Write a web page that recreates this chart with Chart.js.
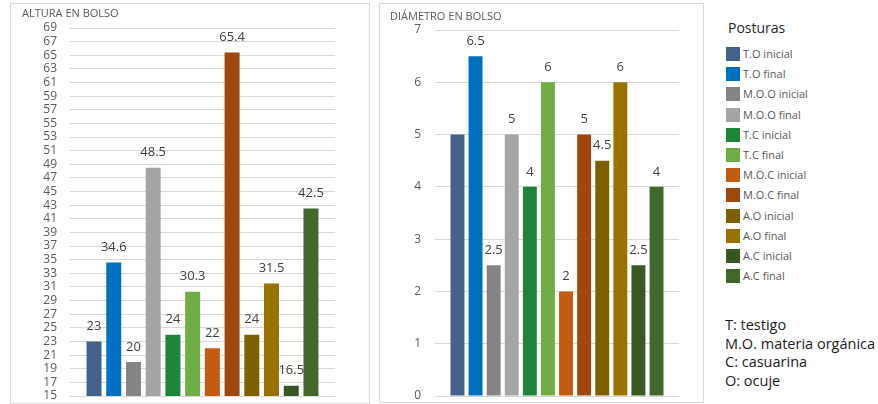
<!DOCTYPE html>
<html>
<head>
<meta charset="utf-8">
<script src="https://cdn.jsdelivr.net/npm/chart.js@4.4.1/dist/chart.umd.min.js"></script>
<style>
  body { margin: 0; background: #fff; font-family: "Open Sans", sans-serif; }
  #lienzo { position: relative; width: 878px; height: 404px; overflow: hidden; }
  .panel { position: absolute; border: 1px solid #d9d9d9; box-sizing: border-box; }
  canvas { position: absolute; }
  .item { position: absolute; left: 726px; height: 14px; font-size: 11px; line-height: 14px; color: #595959; white-space: nowrap; }
  .item span { display: inline-block; width: 14px; height: 14px; vertical-align: top; margin-right: 3px; }
  #titulo { position: absolute; left: 728px; top: 18px; font-size: 14px; color: #262626; }
  .nota { position: absolute; left: 725px; font-size: 14.5px; line-height: 18px; color: #1a1a1a; white-space: nowrap; }
</style>
</head>
<body>
<div id="lienzo">
  <div class="panel" style="left:10px; top:3px; width:360px; height:401px;"></div>
  <div class="panel" style="left:379px; top:3px; width:325px; height:400px;"></div>
  <canvas id="altura" width="357" height="414" style="left:11px; top:4px;"></canvas>
  <canvas id="diametro" width="322" height="415" style="left:380px; top:4px;"></canvas>
  <div id="titulo">Posturas</div>
  <div id="leyenda"></div>
</div>
<script>
// datos
const posturas = ["T.O inicial", "T.O final", "M.O.O inicial", "M.O.O final", "T.C inicial", "T.C final",
  "M.O.C inicial", "M.O.C final", "A.O inicial", "A.O final", "A.C inicial", "A.C final"];
const alturaBolso = [23, 34.6, 20, 48.5, 24, 30.3, 22, 65.4, 24, 31.5, 16.5, 42.5];
const diametroBolso = [5, 6.5, 2.5, 5, 4, 6, 2, 5, 4.5, 6, 2.5, 4];
const grupo = [""];
const notas = ["T: testigo", "M.O. materia orgánica", "C: casuarina", "O: ocuje"];

const colores = ["#43628b", "#0070c0", "#848484", "#a5a5a5", "#1d843a", "#70ad47",
  "#c55a11", "#9e480e", "#7f6000", "#997300", "#385723", "#43682b"];

// etiquetas de valor encima de cada barra
const etiquetas = {
  id: "etiquetas",
  afterDatasetsDraw(chart, args, opts) {
    const ctx = chart.ctx;
    ctx.save();
    ctx.font = '13px "Open Sans"';
    ctx.fillStyle = "#404040";
    ctx.textAlign = "center";
    ctx.textBaseline = "middle";
    chart.data.datasets.forEach((ds, i) => {
      if ((opts.omitir || []).includes(i)) return;
      const barra = chart.getDatasetMeta(i).data[0];
      ctx.fillText(String(ds.data[0]), barra.x, barra.y - 15);
    });
    ctx.restore();
  },
};

function series(valores, cat, bar) {
  return posturas.map((p, i) => ({
    label: p,
    data: [valores[i]],
    backgroundColor: colores[i],
    categoryPercentage: cat,
    barPercentage: bar,
  }));
}

function opciones(titulo, pad, ejeY, padTitulo, omitir) {
  return {
    responsive: false,
    animation: false,
    layout: { padding: pad },
    plugins: {
      legend: { display: false },
      tooltip: { enabled: false },
      title: {
        display: true,
        text: titulo,
        align: "start",
        color: "#595959",
        font: { family: "Open Sans", size: 11, weight: "normal" },
        padding: padTitulo,
      },
      etiquetas: { omitir: omitir },
    },
    scales: {
      x: { display: false },
      y: Object.assign({
        grid: { color: "#d9d9d9", drawTicks: false },
        border: { display: false },
      }, ejeY),
    },
  };
}

let altura = document.getElementById("altura").getContext("2d");
new Chart(altura, {
  type: "bar",
  data: { labels: grupo, datasets: series(alturaBolso, 0.893, 0.76) },
  options: opciones("ALTURA EN BOLSO", { left: 11, right: 33, top: 0, bottom: 22 }, {
    min: 15,
    max: 69,
    ticks: { stepSize: 2, autoSkip: false, padding: 13, color: "#595959", font: { family: "Open Sans", size: 12 } },
    afterFit: (s) => { s.width = 48; },
  }, { top: 3.4, bottom: 7.4 }, []),
  plugins: [etiquetas],
});

let diametro = document.getElementById("diametro").getContext("2d");
new Chart(diametro, {
  type: "bar",
  data: { labels: grupo, datasets: series(diametroBolso, 0.89, 0.77) },
  options: opciones("DIÁMETRO EN BOLSO", { left: 10, right: 23, top: 0, bottom: 23 }, {
    min: 0,
    max: 7,
    ticks: { stepSize: 1, autoSkip: false, padding: 14, color: "#595959", font: { family: "Open Sans", size: 12 } },
    afterFit: (s) => { s.width = 45; },
  }, { top: 6.2, bottom: 6.6 }, [0]),
  plugins: [etiquetas],
});

// leyenda compartida
const leyenda = document.getElementById("leyenda");
posturas.forEach((p, i) => {
  const d = document.createElement("div");
  d.className = "item";
  d.style.top = (47 + i * 20.2) + "px";
  d.innerHTML = '<span style="background:' + colores[i] + '"></span>' + p;
  leyenda.appendChild(d);
});
notas.forEach((n, i) => {
  const d = document.createElement("div");
  d.className = "nota";
  d.style.top = (316 + i * 18.7) + "px";
  d.textContent = n;
  leyenda.appendChild(d);
});
</script>
</body>
</html>
